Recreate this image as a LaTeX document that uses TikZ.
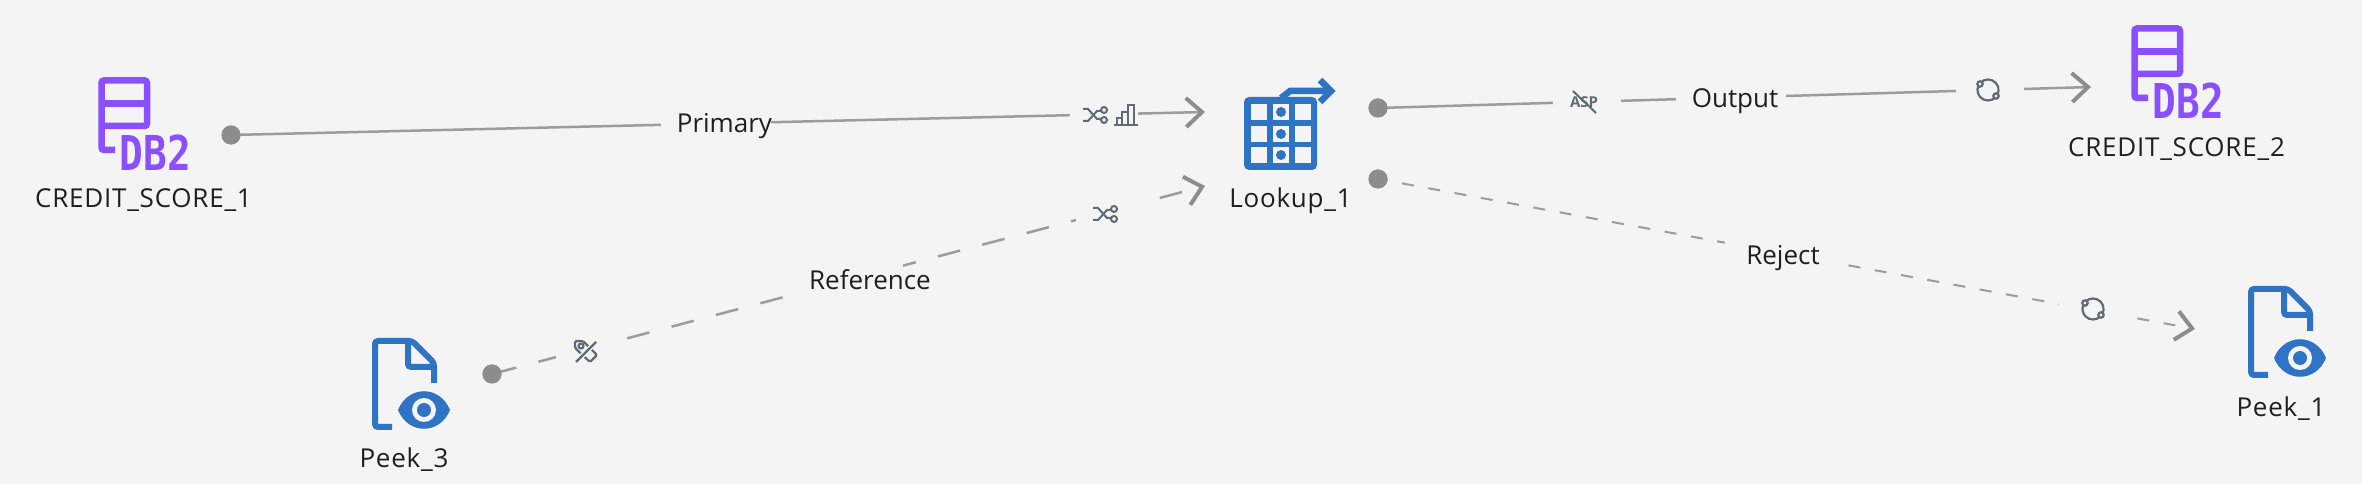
\documentclass[tikz,border=0pt]{standalone}
\usepackage{fontspec}
\setmainfont{Open Sans}
\newfontfamily\dbfont{DejaVu Sans Mono}
\usetikzlibrary{arrows.meta}
\definecolor{canvas}{HTML}{F4F4F4}
\definecolor{linkgrey}{HTML}{9C9C9C}
\definecolor{dotgrey}{HTML}{8D8D8D}
\definecolor{slate}{HTML}{5F6B76}
\definecolor{stageblue}{HTML}{2F74C4}
\definecolor{dbviolet}{HTML}{8A4FFF}
\tikzset{
	port node/.style = {circle,fill=dotgrey,inner sep=0pt,minimum size=19pt},
	stage label/.style = {anchor=base,inner sep=0pt,text=black!88,font=\fontsize{26}{30}\selectfont\addfontfeature{LetterSpace=3}},
	link label/.style = {anchor=base,inner sep=0pt,text=black!88,font=\fontsize{26}{30}\selectfont},
	gap node/.style = {fill=canvas,inner sep=0pt,minimum width=68pt,minimum height=26pt},
	label gap/.style = {gap node,minimum width=110pt,minimum height=36pt},
	solid link/.style = {draw=linkgrey,line width=2.5pt},
	reference link/.style = {solid link,dash pattern=on 23pt off 22.9pt,dash phase=43.8pt},
	reject link/.style = {solid link,line width=2pt,dash pattern=on 12pt off 14.7pt,dash phase=2.3pt},
	chevron/.style = {-{Straight Barb[length=16pt,width=29pt,line width=4pt,color=dotgrey]}},
	db icon/.pic = {
		\begin{scope}[yscale=-1,draw=dbviolet,line width=6.5pt]
			\draw[rounded corners=2.5pt] (17,73)--(3.5,73)--(3.5,3.5)--(49,3.5)--(49,49)--(3.5,49);
			\draw (3.5,26.5)--(49,26.5);
			\node[inner sep=0pt,text=dbviolet,font=\dbfont\bfseries\fontsize{48}{48}\selectfont,xscale=.82] (-text) at (57.5,75.5) {DB2};
		\end{scope}
	},
	peek icon/.pic = {
		\begin{scope}[yscale=-1,draw=stageblue,line width=6pt]
			\draw[rounded corners=3pt] (20,89)--(3,89)--(3,3)--(40,3)--(62,25)--(62,45);
			\draw[rounded corners=3pt] (36,3)--(36,29)--(62,29);
			\fill[stageblue] (26,72) .. controls (36,47) and (68,47) .. (78,72) .. controls (68,97) and (36,97) .. (26,72)--cycle;
			\fill[canvas] (52,72) circle (12);
			\fill[stageblue] (52,72) circle (7);
		\end{scope}
	},
	lookup icon/.pic = {
		\begin{scope}[yscale=-1]
			\fill[stageblue,rounded corners=5pt] (0,0) rectangle (73,73);
			\foreach \cx in {7,29,51}
				\foreach \cy in {7,29,50}
					\fill[canvas] (\cx,\cy) rectangle +(16,16);
			\foreach \cy in {15,37,58}
				\fill[stageblue] (37,\cy) circle (5);
			\draw[stageblue,line width=6.5pt] (37,1)--(46,-6)--(86,-6);
			\draw[stageblue,line width=6.5pt] (76,-17)--(87,-6)--(76,5);
		\end{scope}
	},
	shuffle icon/.pic = {
		\begin{scope}[yscale=-1,draw=slate,line width=2pt]
			\draw (-12,-6)--(-7,-6)--(2,4)--(6,4);
			\draw (-12,6)--(-7,6)--(2,-4)--(6,-4);
			\draw (9,-5) circle (3);
			\draw (9,5) circle (3);
		\end{scope}
	},
	bars icon/.pic = {
		\begin{scope}[yscale=-1,draw=slate,line width=2pt]
			\draw (-12,10)--(12,10);
			\draw (-9,10)--(-9,3)--(-4,3)--(-4,10);
			\draw (-4,10)--(-4,-3)--(2,-3)--(2,10);
			\draw (2,10)--(2,-10)--(8,-10)--(8,10);
		\end{scope}
	},
	sync icon/.pic = {
		\begin{scope}[yscale=-1,draw=slate,line width=2.2pt]
			\draw (0,0)+(225:10.5) arc[start angle=225,end angle=385,radius=10.5];
			\draw (0,0)+(45:10.5) arc[start angle=45,end angle=200,radius=10.5];
			\draw[fill=canvas] (-8,-6) circle (2.7);
			\draw[fill=canvas] (8,6) circle (2.7);
		\end{scope}
	},
	tag off icon/.pic = {
		\begin{scope}[yscale=-1,draw=slate,line width=2.2pt]
			\draw[rounded corners=1.5pt] (-11,-11)--(-3,-11)--(11,3)--(4,10)--(-11,-4)--cycle;
			\draw (-5,-6) circle (2.5);
			\draw[canvas,line width=5pt] (10,-10)--(-10,10);
			\draw (10,-10)--(-10,10);
		\end{scope}
	}
}
\begin{document}
\begin{tikzpicture}[x=1pt,y=1pt]
	\fill[canvas] (0,0) rectangle (2362,484);
	\useasboundingbox (0,0) rectangle (2362,484);

	\node[port node] (db in) at (231,349) {};
	\node[port node] (peek in) at (492,110) {};
	\node[port node] (lookup out) at (1378,376) {};
	\node[port node] (lookup rej) at (1378,305) {};
	\coordinate (primary end) at (1205,372);
	\coordinate (reference end) at (1205,298);
	\coordinate (output end) at (2091,397);
	\coordinate (reject end) at (2195,155);

	\draw[solid link,chevron] (db in.center)--(primary end);
	\draw[reference link,chevron] (peek in.center)--(reference end);
	\draw[solid link,chevron] (lookup out.center)--(output end);
	\draw[reject link,chevron] (lookup rej.center)--(reject end);
	\node[port node] at (db in) {};
	\node[port node] at (peek in) {};
	\node[port node] at (lookup out) {};
	\node[port node] at (lookup rej) {};

	% gaps in the links under the labels and the small icons
	\node[label gap] (gap primary) at (716,360.5) {};
	\node[label gap] (gap reference) at (848,204) {};
	\node[label gap] (gap output) at (1731,386.5) {};
	\node[label gap] (gap reject) at (1780,231) {};
	\node[gap node] (gap prib) at (1104,369) {};
	\node[gap node] (gap refb) at (1110,273) {};
	\node[gap node] (gap refa) at (590,136) {};
	\node[gap node] (gap outa) at (1587,382) {};
	\node[gap node] (gap outb) at (1990,394) {};
	\node[gap node] (gap reja) at (2093,175) {};

	\node[link label] (primary) at (724.5,351) {Primary};
	\node[link label] (reference) at (870,194) {Reference};
	\node[link label] (output) at (1735,376) {Output};
	\node[link label] (reject) at (1783,219) {Reject};

	\pic (db1) at (98,407) {db icon};
	\pic (db2) at (2131,459) {db icon};
	\pic (peek3) at (372,146) {peek icon};
	\pic (peek1) at (2248,198) {peek icon};
	\pic (lookup) at (1244,387) {lookup icon};

	\pic (shuffa) at (1095,369) {shuffle icon};
	\pic (barsa) at (1126,369) {bars icon};
	\pic (shuffb) at (1105,270) {shuffle icon};
	\pic (tag) at (586,132) {tag off icon};
	\pic (synca) at (1988,394) {sync icon};
	\pic (syncb) at (2093,175) {sync icon};
	\node[inner sep=0pt,text=slate,font=\bfseries\fontsize{15}{15}\selectfont] (asp) at (1584,382) {ASP};
	\draw[slate,line width=2pt] (1573,393)--(1596,371);

	\node[stage label] (db1 label) at (143.5,276) {CREDIT\_SCORE\_1};
	\node[stage label] (db2 label) at (2176.5,327) {CREDIT\_SCORE\_2};
	\node[stage label] (lookup label) at (1290.5,276) {Lookup\_1};
	\node[stage label] (peek3 label) at (404,16) {Peek\_3};
	\node[stage label] (peek1 label) at (2281,67) {Peek\_1};
\end{tikzpicture}
\end{document}
